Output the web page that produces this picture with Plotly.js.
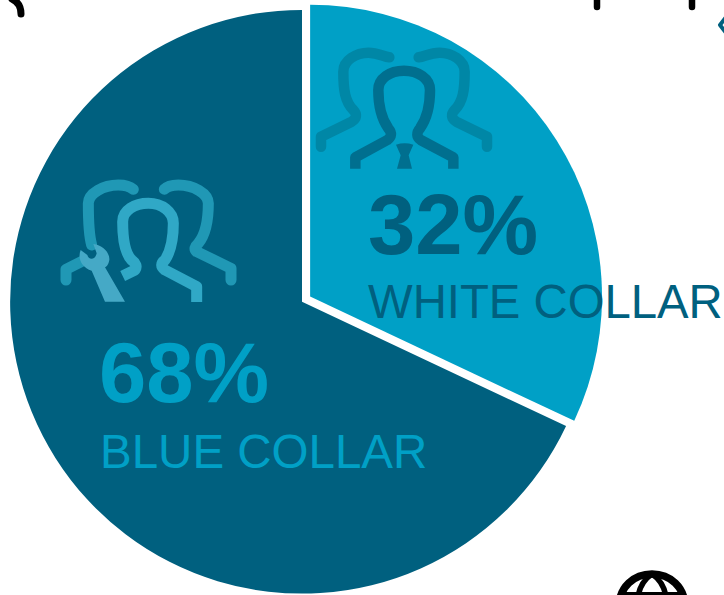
<!DOCTYPE html>
<html>
<head>
<meta charset="utf-8">
<script src="https://cdn.plot.ly/plotly-3.0.1.min.js"></script>
<style>
html,body{margin:0;padding:0;width:724px;height:595px;overflow:hidden;background:#fff}
#chart{width:724px;height:595px;overflow:hidden}
.shapelayer path{stroke-linejoin:round;stroke-linecap:round}
.shapelayer [data-index="5"],.shapelayer [data-index="5"] path,
.shapelayer [data-index="6"],.shapelayer [data-index="6"] path{stroke-linecap:butt}
</style>
</head>
<body>
<div id="chart"></div>
<script>
const categories = ["WHITE COLLAR", "BLUE COLLAR"];
const shares = [32, 68];
const sliceColors = ["#00A0C6", "#00607F"];
const shareLabels = ["32%", "68%"];
const textColors = ["#00607F", "#00A0C6"];

const W = 724, H = 640;
const fx = x => x / W, fy = y => 1 - y / H;

// converts an absolute path given in a zoomed icon space to paper fractions
function toPaper(d, ox, oy, s) {
  return d.replace(/(-?[\d.]+)[ ,](-?[\d.]+)/g, (m, a, b) =>
    fx(ox + a * s).toFixed(5) + "," + fy(oy + b * s).toFixed(5));
}
function stroke(d, color, width, ox = 0, oy = 0, s = 1) {
  return {type: "path", xref: "paper", yref: "paper", path: toPaper(d, ox, oy, s),
          line: {color, width}, fillcolor: "rgba(0,0,0,0)"};
}
function fill(d, color, ox = 0, oy = 0, s = 1) {
  return {type: "path", xref: "paper", yref: "paper", path: toPaper(d, ox, oy, s),
          line: {width: 0}, fillcolor: color};
}

const S = 1 / 3;
const shapes = [
  // white-collar icon, back figures
  stroke("M63 440 L63 410 L155 365 Q178 350 160 330 C135 305 130 270 130 215 C130 180 170 158 205 158 C235 158 250 170 268 172", "#0087A6", 10.5, 300, 0, S),
  stroke("M561 440 L561 410 L469 365 Q446 350 464 330 C489 305 494 270 494 215 C494 180 454 158 419 158 C389 158 374 170 356 172", "#0087A6", 10.5, 300, 0, S),
  // blue-collar icon, back figures
  stroke("M48 330 L48 298 L100 272", "#2098B5", 11, 50, 170, S),
  stroke("M125 225 C115 190 115 140 115 100 C115 70 160 45 205 45 Q235 45 250 58", "#2098B5", 11, 50, 170, S),
  stroke("M543 330 L543 295 L440 245 Q428 235 445 220 C470 190 475 140 475 100 C475 70 430 45 385 45 Q355 45 343 58", "#2098B5", 11, 50, 170, S),
  // white-collar icon, front figure
  stroke("M166 506 L166 472 L262 420 Q282 405 265 385 C240 350 235 310 235 270 C235 235 270 212 312 212 C354 212 390 235 390 270 C390 310 385 350 360 385 Q343 405 362 420 L460 472 L460 506", "#006F8F", 10.5, 300, 0, S),
  // blue-collar icon, front figure
  stroke("M218 318 L255 300 Q265 285 245 270 C220 245 218 190 218 155 C218 120 255 100 295 100 C335 100 370 125 370 160 C370 200 365 240 345 270 Q325 285 345 300 L440 350 L440 396", "#30A8C6", 11, 50, 170, S),
  // tie and wrench
  fill("M288 434 Q314 426 340 434 L326 466 L336 506 L291 506 L302 466 Z", "#006F8F", 300, 0, S),
  fill("M165 395 L125 302 C95 292 82 265 92 240 L112 255 C115 270 135 272 140 250 L130 222 C160 225 180 250 178 270 C175 285 170 290 165 292 L225 395 Z", "#45A9C6", 50, 170, S),
  // cropped pictograms along the picture's edge
  stroke("M12 -1 Q21 3 21 14", "#000000", 7),
  stroke("M597 -3 L597 7", "#000000", 6.5),
  stroke("M692 -3 L692 7", "#000000", 6.5),
  stroke("M727 16 L720 25 L727 34", "#00607F", 4),
  stroke("M619 607 C619 587 634 574 652 574 C670 574 685 587 685 607", "#000000", 7.5),
  stroke("M637 607 C637 590 643 580 652 574 C661 580 667 590 667 607", "#000000", 5.5),
  stroke("M625 595 L679 595", "#000000", 6)
];

const annotations = [
  {text: "<b>" + shareLabels[0] + "</b>", x: fx(368), y: fy(224), color: textColors[0], size: 85},
  {text: categories[0], x: fx(368), y: fy(301), color: textColors[0], size: 47.3},
  {text: "<b>" + shareLabels[1] + "</b>", x: fx(99), y: fy(372), color: textColors[1], size: 85},
  {text: categories[1], x: fx(99.5), y: fy(451), color: textColors[1], size: 47.5}
].map(a => ({
  text: a.text, x: a.x, y: a.y, xref: "paper", yref: "paper", xanchor: "left", yanchor: "middle",
  showarrow: false, borderpad: 0, borderwidth: 0,
  font: {family: "Liberation Sans, Arial, sans-serif", size: a.size, color: a.color}
}));

Plotly.newPlot("chart", [{
  type: "pie",
  labels: categories,
  values: shares,
  sort: false,
  direction: "clockwise",
  rotation: 0,
  pull: [0.033, 0],
  textinfo: "none",
  hoverinfo: "label+percent",
  marker: {colors: sliceColors, line: {width: 0}},
  domain: {x: [fx(0.5), fx(603.5)], y: [fy(603.5), fy(0)]}
}], {
  width: W, height: H,
  margin: {l: 0, r: 0, t: 0, b: 0},
  paper_bgcolor: "#ffffff",
  showlegend: false,
  shapes, annotations
}, {displayModeBar: false, staticPlot: true});
</script>
</body>
</html>
